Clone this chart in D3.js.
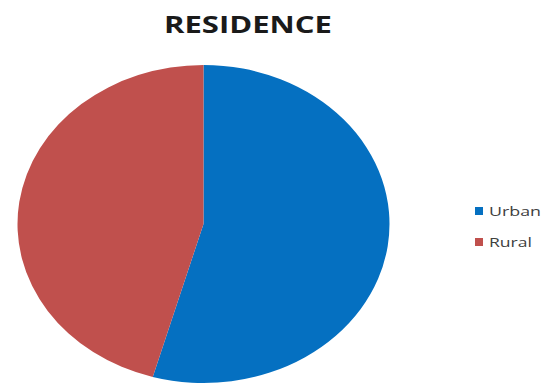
<!DOCTYPE html>
<html>
<head>
<meta charset="utf-8">
<script src="https://cdn.jsdelivr.net/npm/d3@7"></script>
<style>
html, body { margin: 0; padding: 0; background: #fff; }
svg { display: block; }
</style>
</head>
<body>
<svg id="chart" width="550" height="389"></svg>
<script>
const categories = ["Urban", "Rural"];
const values = [54.4, 45.6];
const colors = ["#0570C1", "#C0504D"];
const title = "RESIDENCE";

const svg = d3.select("#chart");
const W = 550, H = 389;
const cx = 203.5, cy = 224, rx = 186, ry = 159;

svg.append("text")
  .attr("x", 248).attr("y", 33)
  .attr("text-anchor", "middle")
  .attr("font-family", "Open Sans, sans-serif")
  .attr("font-weight", "bold")
  .attr("font-size", 23)
  .attr("fill", "#1a1a1a")
  .attr("textLength", 168)
  .attr("lengthAdjust", "spacingAndGlyphs")
  .text(title);

const color = d3.scaleOrdinal().domain(categories).range(colors);
const pie = d3.pie().sort(null).value(d => d.v);
const data = categories.map((c, i) => ({ c, v: values[i] }));
const R = 100;
const arc = d3.arc().innerRadius(0).outerRadius(R);

const g = svg.append("g")
  .attr("transform", `translate(${cx},${cy}) scale(${rx / R},${ry / R})`);
g.selectAll("path").data(pie(data)).join("path")
  .attr("d", arc)
  .attr("fill", d => color(d.data.c));

const legend = svg.append("g");
const ly = d3.scalePoint().domain(categories).range([211, 242]);
legend.selectAll("rect").data(categories).join("rect")
  .attr("x", 475).attr("y", d => ly(d) - 4)
  .attr("width", 8).attr("height", 8)
  .attr("fill", d => color(d));
legend.selectAll("text").data(categories).join("text")
  .attr("x", 489).attr("y", d => ly(d) + 4.5)
  .attr("font-family", "Open Sans, sans-serif")
  .attr("font-size", 13)
  .attr("fill", "#404040")
  .attr("textLength", d => d === "Urban" ? 52 : 43)
  .attr("lengthAdjust", "spacingAndGlyphs")
  .text(d => d);
</script>
</body>
</html>
